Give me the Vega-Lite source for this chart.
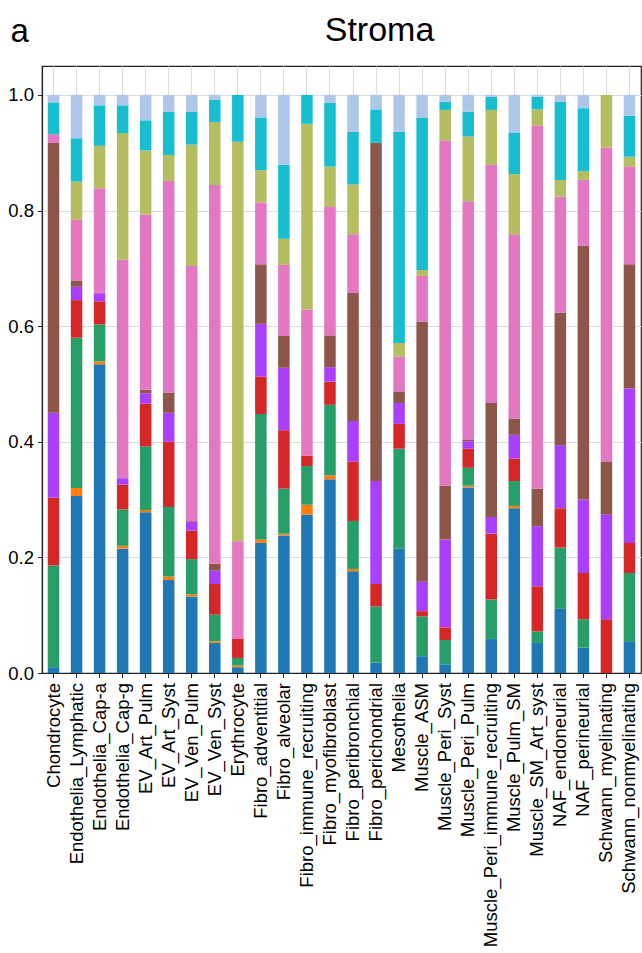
{
  "$schema": "https://vega.github.io/schema/vega-lite/v6.json",
  "width": 599,
  "height": 607,
  "autosize": "none",
  "padding": {"left": 42, "top": 66, "right": 1, "bottom": 280},
  "background": "white",
  "title": {"text": "Stroma", "anchor": "middle", "frame": "group", "dx": 38, "fontSize": 34, "font": "Liberation Sans", "fontWeight": "normal", "color": "black", "baseline": "alphabetic", "offset": -60},
  "data": {"values": [
    {"cell_type": "Chondrocyte", "group": "0", "fraction": 0.010},
    {"cell_type": "Chondrocyte", "group": "2", "fraction": 0.176},
    {"cell_type": "Chondrocyte", "group": "3", "fraction": 0.117},
    {"cell_type": "Chondrocyte", "group": "4", "fraction": 0.147},
    {"cell_type": "Chondrocyte", "group": "5", "fraction": 0.467},
    {"cell_type": "Chondrocyte", "group": "6", "fraction": 0.015},
    {"cell_type": "Chondrocyte", "group": "8", "fraction": 0.055},
    {"cell_type": "Chondrocyte", "group": "9", "fraction": 0.013},
    {"cell_type": "Endothelia_Lymphatic", "group": "0", "fraction": 0.306},
    {"cell_type": "Endothelia_Lymphatic", "group": "1", "fraction": 0.014},
    {"cell_type": "Endothelia_Lymphatic", "group": "2", "fraction": 0.260},
    {"cell_type": "Endothelia_Lymphatic", "group": "3", "fraction": 0.065},
    {"cell_type": "Endothelia_Lymphatic", "group": "4", "fraction": 0.023},
    {"cell_type": "Endothelia_Lymphatic", "group": "5", "fraction": 0.011},
    {"cell_type": "Endothelia_Lymphatic", "group": "6", "fraction": 0.105},
    {"cell_type": "Endothelia_Lymphatic", "group": "7", "fraction": 0.066},
    {"cell_type": "Endothelia_Lymphatic", "group": "8", "fraction": 0.075},
    {"cell_type": "Endothelia_Lymphatic", "group": "9", "fraction": 0.075},
    {"cell_type": "Endothelia_Cap-a", "group": "0", "fraction": 0.534},
    {"cell_type": "Endothelia_Cap-a", "group": "1", "fraction": 0.005},
    {"cell_type": "Endothelia_Cap-a", "group": "2", "fraction": 0.064},
    {"cell_type": "Endothelia_Cap-a", "group": "3", "fraction": 0.040},
    {"cell_type": "Endothelia_Cap-a", "group": "4", "fraction": 0.014},
    {"cell_type": "Endothelia_Cap-a", "group": "6", "fraction": 0.181},
    {"cell_type": "Endothelia_Cap-a", "group": "7", "fraction": 0.074},
    {"cell_type": "Endothelia_Cap-a", "group": "8", "fraction": 0.070},
    {"cell_type": "Endothelia_Cap-a", "group": "9", "fraction": 0.018},
    {"cell_type": "Endothelia_Cap-g", "group": "0", "fraction": 0.215},
    {"cell_type": "Endothelia_Cap-g", "group": "1", "fraction": 0.005},
    {"cell_type": "Endothelia_Cap-g", "group": "2", "fraction": 0.063},
    {"cell_type": "Endothelia_Cap-g", "group": "3", "fraction": 0.043},
    {"cell_type": "Endothelia_Cap-g", "group": "4", "fraction": 0.011},
    {"cell_type": "Endothelia_Cap-g", "group": "6", "fraction": 0.378},
    {"cell_type": "Endothelia_Cap-g", "group": "7", "fraction": 0.219},
    {"cell_type": "Endothelia_Cap-g", "group": "8", "fraction": 0.048},
    {"cell_type": "Endothelia_Cap-g", "group": "9", "fraction": 0.018},
    {"cell_type": "EV_Art_Pulm", "group": "0", "fraction": 0.278},
    {"cell_type": "EV_Art_Pulm", "group": "1", "fraction": 0.004},
    {"cell_type": "EV_Art_Pulm", "group": "2", "fraction": 0.110},
    {"cell_type": "EV_Art_Pulm", "group": "3", "fraction": 0.074},
    {"cell_type": "EV_Art_Pulm", "group": "4", "fraction": 0.018},
    {"cell_type": "EV_Art_Pulm", "group": "5", "fraction": 0.006},
    {"cell_type": "EV_Art_Pulm", "group": "6", "fraction": 0.303},
    {"cell_type": "EV_Art_Pulm", "group": "7", "fraction": 0.111},
    {"cell_type": "EV_Art_Pulm", "group": "8", "fraction": 0.052},
    {"cell_type": "EV_Art_Pulm", "group": "9", "fraction": 0.044},
    {"cell_type": "EV_Art_Syst", "group": "0", "fraction": 0.161},
    {"cell_type": "EV_Art_Syst", "group": "1", "fraction": 0.006},
    {"cell_type": "EV_Art_Syst", "group": "2", "fraction": 0.120},
    {"cell_type": "EV_Art_Syst", "group": "3", "fraction": 0.113},
    {"cell_type": "EV_Art_Syst", "group": "4", "fraction": 0.050},
    {"cell_type": "EV_Art_Syst", "group": "5", "fraction": 0.035},
    {"cell_type": "EV_Art_Syst", "group": "6", "fraction": 0.366},
    {"cell_type": "EV_Art_Syst", "group": "7", "fraction": 0.045},
    {"cell_type": "EV_Art_Syst", "group": "8", "fraction": 0.075},
    {"cell_type": "EV_Art_Syst", "group": "9", "fraction": 0.029},
    {"cell_type": "EV_Ven_Pulm", "group": "0", "fraction": 0.132},
    {"cell_type": "EV_Ven_Pulm", "group": "1", "fraction": 0.004},
    {"cell_type": "EV_Ven_Pulm", "group": "2", "fraction": 0.061},
    {"cell_type": "EV_Ven_Pulm", "group": "3", "fraction": 0.049},
    {"cell_type": "EV_Ven_Pulm", "group": "4", "fraction": 0.016},
    {"cell_type": "EV_Ven_Pulm", "group": "5", "fraction": 0.002},
    {"cell_type": "EV_Ven_Pulm", "group": "6", "fraction": 0.440},
    {"cell_type": "EV_Ven_Pulm", "group": "7", "fraction": 0.210},
    {"cell_type": "EV_Ven_Pulm", "group": "8", "fraction": 0.057},
    {"cell_type": "EV_Ven_Pulm", "group": "9", "fraction": 0.029},
    {"cell_type": "EV_Ven_Syst", "group": "0", "fraction": 0.052},
    {"cell_type": "EV_Ven_Syst", "group": "1", "fraction": 0.003},
    {"cell_type": "EV_Ven_Syst", "group": "2", "fraction": 0.046},
    {"cell_type": "EV_Ven_Syst", "group": "3", "fraction": 0.053},
    {"cell_type": "EV_Ven_Syst", "group": "4", "fraction": 0.023},
    {"cell_type": "EV_Ven_Syst", "group": "5", "fraction": 0.012},
    {"cell_type": "EV_Ven_Syst", "group": "6", "fraction": 0.655},
    {"cell_type": "EV_Ven_Syst", "group": "7", "fraction": 0.109},
    {"cell_type": "EV_Ven_Syst", "group": "8", "fraction": 0.039},
    {"cell_type": "EV_Ven_Syst", "group": "9", "fraction": 0.008},
    {"cell_type": "Erythrocyte", "group": "0", "fraction": 0.010},
    {"cell_type": "Erythrocyte", "group": "1", "fraction": 0.003},
    {"cell_type": "Erythrocyte", "group": "2", "fraction": 0.013},
    {"cell_type": "Erythrocyte", "group": "3", "fraction": 0.033},
    {"cell_type": "Erythrocyte", "group": "6", "fraction": 0.169},
    {"cell_type": "Erythrocyte", "group": "7", "fraction": 0.691},
    {"cell_type": "Erythrocyte", "group": "8", "fraction": 0.081},
    {"cell_type": "Fibro_adventitial", "group": "0", "fraction": 0.225},
    {"cell_type": "Fibro_adventitial", "group": "1", "fraction": 0.006},
    {"cell_type": "Fibro_adventitial", "group": "2", "fraction": 0.217},
    {"cell_type": "Fibro_adventitial", "group": "3", "fraction": 0.065},
    {"cell_type": "Fibro_adventitial", "group": "4", "fraction": 0.091},
    {"cell_type": "Fibro_adventitial", "group": "5", "fraction": 0.103},
    {"cell_type": "Fibro_adventitial", "group": "6", "fraction": 0.107},
    {"cell_type": "Fibro_adventitial", "group": "7", "fraction": 0.056},
    {"cell_type": "Fibro_adventitial", "group": "8", "fraction": 0.091},
    {"cell_type": "Fibro_adventitial", "group": "9", "fraction": 0.039},
    {"cell_type": "Fibro_alveolar", "group": "0", "fraction": 0.238},
    {"cell_type": "Fibro_alveolar", "group": "1", "fraction": 0.003},
    {"cell_type": "Fibro_alveolar", "group": "2", "fraction": 0.078},
    {"cell_type": "Fibro_alveolar", "group": "3", "fraction": 0.101},
    {"cell_type": "Fibro_alveolar", "group": "4", "fraction": 0.108},
    {"cell_type": "Fibro_alveolar", "group": "5", "fraction": 0.055},
    {"cell_type": "Fibro_alveolar", "group": "6", "fraction": 0.123},
    {"cell_type": "Fibro_alveolar", "group": "7", "fraction": 0.045},
    {"cell_type": "Fibro_alveolar", "group": "8", "fraction": 0.128},
    {"cell_type": "Fibro_alveolar", "group": "9", "fraction": 0.121},
    {"cell_type": "Fibro_immune_recruiting", "group": "0", "fraction": 0.274},
    {"cell_type": "Fibro_immune_recruiting", "group": "1", "fraction": 0.017},
    {"cell_type": "Fibro_immune_recruiting", "group": "2", "fraction": 0.067},
    {"cell_type": "Fibro_immune_recruiting", "group": "3", "fraction": 0.018},
    {"cell_type": "Fibro_immune_recruiting", "group": "6", "fraction": 0.253},
    {"cell_type": "Fibro_immune_recruiting", "group": "7", "fraction": 0.321},
    {"cell_type": "Fibro_immune_recruiting", "group": "8", "fraction": 0.050},
    {"cell_type": "Fibro_myofibroblast", "group": "0", "fraction": 0.335},
    {"cell_type": "Fibro_myofibroblast", "group": "1", "fraction": 0.007},
    {"cell_type": "Fibro_myofibroblast", "group": "2", "fraction": 0.122},
    {"cell_type": "Fibro_myofibroblast", "group": "3", "fraction": 0.040},
    {"cell_type": "Fibro_myofibroblast", "group": "4", "fraction": 0.025},
    {"cell_type": "Fibro_myofibroblast", "group": "5", "fraction": 0.055},
    {"cell_type": "Fibro_myofibroblast", "group": "6", "fraction": 0.222},
    {"cell_type": "Fibro_myofibroblast", "group": "7", "fraction": 0.070},
    {"cell_type": "Fibro_myofibroblast", "group": "8", "fraction": 0.110},
    {"cell_type": "Fibro_myofibroblast", "group": "9", "fraction": 0.014},
    {"cell_type": "Fibro_peribronchial", "group": "0", "fraction": 0.176},
    {"cell_type": "Fibro_peribronchial", "group": "1", "fraction": 0.004},
    {"cell_type": "Fibro_peribronchial", "group": "2", "fraction": 0.083},
    {"cell_type": "Fibro_peribronchial", "group": "3", "fraction": 0.103},
    {"cell_type": "Fibro_peribronchial", "group": "4", "fraction": 0.070},
    {"cell_type": "Fibro_peribronchial", "group": "5", "fraction": 0.222},
    {"cell_type": "Fibro_peribronchial", "group": "6", "fraction": 0.101},
    {"cell_type": "Fibro_peribronchial", "group": "7", "fraction": 0.086},
    {"cell_type": "Fibro_peribronchial", "group": "8", "fraction": 0.091},
    {"cell_type": "Fibro_peribronchial", "group": "9", "fraction": 0.064},
    {"cell_type": "Fibro_perichondrial", "group": "0", "fraction": 0.018},
    {"cell_type": "Fibro_perichondrial", "group": "2", "fraction": 0.097},
    {"cell_type": "Fibro_perichondrial", "group": "3", "fraction": 0.039},
    {"cell_type": "Fibro_perichondrial", "group": "4", "fraction": 0.178},
    {"cell_type": "Fibro_perichondrial", "group": "5", "fraction": 0.585},
    {"cell_type": "Fibro_perichondrial", "group": "8", "fraction": 0.058},
    {"cell_type": "Fibro_perichondrial", "group": "9", "fraction": 0.025},
    {"cell_type": "Mesothelia", "group": "0", "fraction": 0.215},
    {"cell_type": "Mesothelia", "group": "2", "fraction": 0.173},
    {"cell_type": "Mesothelia", "group": "3", "fraction": 0.043},
    {"cell_type": "Mesothelia", "group": "4", "fraction": 0.036},
    {"cell_type": "Mesothelia", "group": "5", "fraction": 0.020},
    {"cell_type": "Mesothelia", "group": "6", "fraction": 0.060},
    {"cell_type": "Mesothelia", "group": "7", "fraction": 0.024},
    {"cell_type": "Mesothelia", "group": "8", "fraction": 0.365},
    {"cell_type": "Mesothelia", "group": "9", "fraction": 0.064},
    {"cell_type": "Muscle_ASM", "group": "0", "fraction": 0.029},
    {"cell_type": "Muscle_ASM", "group": "2", "fraction": 0.069},
    {"cell_type": "Muscle_ASM", "group": "3", "fraction": 0.009},
    {"cell_type": "Muscle_ASM", "group": "4", "fraction": 0.051},
    {"cell_type": "Muscle_ASM", "group": "5", "fraction": 0.450},
    {"cell_type": "Muscle_ASM", "group": "6", "fraction": 0.079},
    {"cell_type": "Muscle_ASM", "group": "7", "fraction": 0.010},
    {"cell_type": "Muscle_ASM", "group": "8", "fraction": 0.263},
    {"cell_type": "Muscle_ASM", "group": "9", "fraction": 0.040},
    {"cell_type": "Muscle_Peri_Syst", "group": "0", "fraction": 0.015},
    {"cell_type": "Muscle_Peri_Syst", "group": "2", "fraction": 0.042},
    {"cell_type": "Muscle_Peri_Syst", "group": "3", "fraction": 0.022},
    {"cell_type": "Muscle_Peri_Syst", "group": "4", "fraction": 0.152},
    {"cell_type": "Muscle_Peri_Syst", "group": "5", "fraction": 0.093},
    {"cell_type": "Muscle_Peri_Syst", "group": "6", "fraction": 0.597},
    {"cell_type": "Muscle_Peri_Syst", "group": "7", "fraction": 0.053},
    {"cell_type": "Muscle_Peri_Syst", "group": "8", "fraction": 0.014},
    {"cell_type": "Muscle_Peri_Syst", "group": "9", "fraction": 0.012},
    {"cell_type": "Muscle_Peri_Pulm", "group": "0", "fraction": 0.321},
    {"cell_type": "Muscle_Peri_Pulm", "group": "1", "fraction": 0.003},
    {"cell_type": "Muscle_Peri_Pulm", "group": "2", "fraction": 0.031},
    {"cell_type": "Muscle_Peri_Pulm", "group": "3", "fraction": 0.033},
    {"cell_type": "Muscle_Peri_Pulm", "group": "4", "fraction": 0.013},
    {"cell_type": "Muscle_Peri_Pulm", "group": "5", "fraction": 0.003},
    {"cell_type": "Muscle_Peri_Pulm", "group": "6", "fraction": 0.412},
    {"cell_type": "Muscle_Peri_Pulm", "group": "7", "fraction": 0.112},
    {"cell_type": "Muscle_Peri_Pulm", "group": "8", "fraction": 0.043},
    {"cell_type": "Muscle_Peri_Pulm", "group": "9", "fraction": 0.029},
    {"cell_type": "Muscle_Peri_immune_recruiting", "group": "0", "fraction": 0.059},
    {"cell_type": "Muscle_Peri_immune_recruiting", "group": "2", "fraction": 0.068},
    {"cell_type": "Muscle_Peri_immune_recruiting", "group": "3", "fraction": 0.114},
    {"cell_type": "Muscle_Peri_immune_recruiting", "group": "4", "fraction": 0.029},
    {"cell_type": "Muscle_Peri_immune_recruiting", "group": "5", "fraction": 0.197},
    {"cell_type": "Muscle_Peri_immune_recruiting", "group": "6", "fraction": 0.412},
    {"cell_type": "Muscle_Peri_immune_recruiting", "group": "7", "fraction": 0.095},
    {"cell_type": "Muscle_Peri_immune_recruiting", "group": "8", "fraction": 0.023},
    {"cell_type": "Muscle_Peri_immune_recruiting", "group": "9", "fraction": 0.003},
    {"cell_type": "Muscle_Pulm_SM", "group": "0", "fraction": 0.285},
    {"cell_type": "Muscle_Pulm_SM", "group": "1", "fraction": 0.004},
    {"cell_type": "Muscle_Pulm_SM", "group": "2", "fraction": 0.043},
    {"cell_type": "Muscle_Pulm_SM", "group": "3", "fraction": 0.039},
    {"cell_type": "Muscle_Pulm_SM", "group": "4", "fraction": 0.041},
    {"cell_type": "Muscle_Pulm_SM", "group": "5", "fraction": 0.028},
    {"cell_type": "Muscle_Pulm_SM", "group": "6", "fraction": 0.319},
    {"cell_type": "Muscle_Pulm_SM", "group": "7", "fraction": 0.104},
    {"cell_type": "Muscle_Pulm_SM", "group": "8", "fraction": 0.072},
    {"cell_type": "Muscle_Pulm_SM", "group": "9", "fraction": 0.065},
    {"cell_type": "Muscle_SM_Art_syst", "group": "0", "fraction": 0.052},
    {"cell_type": "Muscle_SM_Art_syst", "group": "2", "fraction": 0.020},
    {"cell_type": "Muscle_SM_Art_syst", "group": "3", "fraction": 0.078},
    {"cell_type": "Muscle_SM_Art_syst", "group": "4", "fraction": 0.104},
    {"cell_type": "Muscle_SM_Art_syst", "group": "5", "fraction": 0.065},
    {"cell_type": "Muscle_SM_Art_syst", "group": "6", "fraction": 0.628},
    {"cell_type": "Muscle_SM_Art_syst", "group": "7", "fraction": 0.028},
    {"cell_type": "Muscle_SM_Art_syst", "group": "8", "fraction": 0.022},
    {"cell_type": "Muscle_SM_Art_syst", "group": "9", "fraction": 0.003},
    {"cell_type": "NAF_endoneurial", "group": "0", "fraction": 0.111},
    {"cell_type": "NAF_endoneurial", "group": "2", "fraction": 0.106},
    {"cell_type": "NAF_endoneurial", "group": "3", "fraction": 0.068},
    {"cell_type": "NAF_endoneurial", "group": "4", "fraction": 0.109},
    {"cell_type": "NAF_endoneurial", "group": "5", "fraction": 0.229},
    {"cell_type": "NAF_endoneurial", "group": "6", "fraction": 0.201},
    {"cell_type": "NAF_endoneurial", "group": "7", "fraction": 0.029},
    {"cell_type": "NAF_endoneurial", "group": "8", "fraction": 0.135},
    {"cell_type": "NAF_endoneurial", "group": "9", "fraction": 0.012},
    {"cell_type": "NAF_perineurial", "group": "0", "fraction": 0.044},
    {"cell_type": "NAF_perineurial", "group": "2", "fraction": 0.049},
    {"cell_type": "NAF_perineurial", "group": "3", "fraction": 0.080},
    {"cell_type": "NAF_perineurial", "group": "4", "fraction": 0.127},
    {"cell_type": "NAF_perineurial", "group": "5", "fraction": 0.439},
    {"cell_type": "NAF_perineurial", "group": "6", "fraction": 0.114},
    {"cell_type": "NAF_perineurial", "group": "7", "fraction": 0.015},
    {"cell_type": "NAF_perineurial", "group": "8", "fraction": 0.109},
    {"cell_type": "NAF_perineurial", "group": "9", "fraction": 0.023},
    {"cell_type": "Schwann_myelinating", "group": "3", "fraction": 0.093},
    {"cell_type": "Schwann_myelinating", "group": "4", "fraction": 0.181},
    {"cell_type": "Schwann_myelinating", "group": "5", "fraction": 0.092},
    {"cell_type": "Schwann_myelinating", "group": "6", "fraction": 0.543},
    {"cell_type": "Schwann_myelinating", "group": "7", "fraction": 0.091},
    {"cell_type": "Schwann_nonmyelinating", "group": "0", "fraction": 0.055},
    {"cell_type": "Schwann_nonmyelinating", "group": "2", "fraction": 0.118},
    {"cell_type": "Schwann_nonmyelinating", "group": "3", "fraction": 0.052},
    {"cell_type": "Schwann_nonmyelinating", "group": "4", "fraction": 0.267},
    {"cell_type": "Schwann_nonmyelinating", "group": "5", "fraction": 0.215},
    {"cell_type": "Schwann_nonmyelinating", "group": "6", "fraction": 0.169},
    {"cell_type": "Schwann_nonmyelinating", "group": "7", "fraction": 0.017},
    {"cell_type": "Schwann_nonmyelinating", "group": "8", "fraction": 0.071},
    {"cell_type": "Schwann_nonmyelinating", "group": "9", "fraction": 0.036}
  ]},
  "mark": {"type": "bar"},
  "encoding": {
    "x": {
      "field": "cell_type", "type": "nominal", "sort": null,
      "scale": {"paddingInner": 0.5, "paddingOuter": 0.25},
      "axis": {"title": null, "labelAngle": -90, "labelAlign": "right", "labelBaseline": "middle", "labelPadding": 5, "labelLimit": 0, "tickSize": 4.5, "bandPosition": 0.5, "grid": true}
    },
    "y": {
      "field": "fraction", "type": "quantitative", "stack": "zero",
      "scale": {"domain": [0, 1.05], "nice": false, "zero": true},
      "axis": {"values": [0, 0.2, 0.4, 0.6, 0.8, 1.0], "format": ".1f", "grid": true, "tickSize": 4.5, "labelPadding": 4,
        "title": "a", "titleAngle": 0, "titleX": -32, "titleY": -25, "titleAlign": "left", "titleBaseline": "alphabetic", "titleFontSize": 33, "titleFontWeight": "normal", "titleFont": "Liberation Sans", "titleColor": "black"}
    },
    "color": {
      "field": "group", "type": "nominal",
      "scale": {"domain": ["0", "1", "2", "3", "4", "5", "6", "7", "8", "9"],
        "range": ["#1f77b4", "#ff7f0e", "#279e68", "#d62728", "#aa40fc", "#8c564b", "#e377c2", "#b5bd61", "#17becf", "#aec7e8"]},
      "legend": null
    },
    "order": {"field": "group", "type": "ordinal"}
  },
  "config": {
    "view": {"stroke": "#222222", "strokeWidth": 1.2},
    "axis": {"zindex": 1, "gridColor": "#dcdcdc", "gridWidth": 1, "domainColor": "#222222", "domainWidth": 1.2, "tickColor": "#222222", "labelFont": "Liberation Sans", "labelFontSize": 18.5, "labelColor": "black"}
  }
}
